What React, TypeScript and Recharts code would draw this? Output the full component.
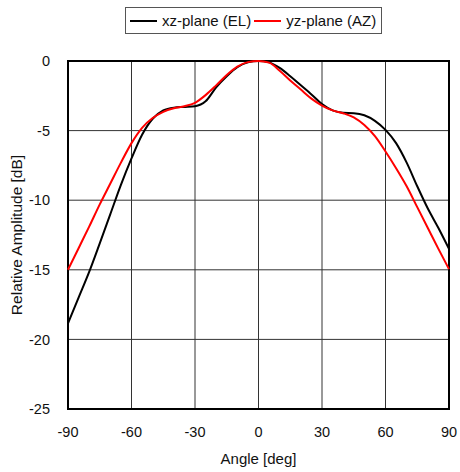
import { CartesianGrid, Line, LineChart, ReferenceArea, XAxis, YAxis } from "recharts";

const angles = [
  -90, -85, -80, -75, -70, -65, -60, -55, -50, -45, -40, -35, -30, -25, -20, -15, -10, -5, 0,
  5, 10, 15, 20, 25, 30, 35, 40, 45, 50, 55, 60, 65, 70, 75, 80, 85, 90,
];

const xzPlane = [
  -18.85, -17.0, -15.15, -13.1, -11.0, -8.9, -7.0, -5.3, -4.15, -3.55, -3.35, -3.3, -3.25, -2.9, -1.9, -1.1, -0.45, -0.1, 0,
  -0.1, -0.5, -1.1, -1.75, -2.4, -3.1, -3.55, -3.72, -3.75, -3.9, -4.3, -4.95, -5.9, -7.3, -9.0, -10.6, -12.0, -13.5,
];

const yzPlane = [
  -15.0, -13.45, -11.9, -10.3, -8.8, -7.3, -5.9, -4.8, -4.1, -3.65, -3.4, -3.25, -3.0, -2.45, -1.75, -1.0, -0.4, -0.08, 0,
  -0.12, -0.7, -1.4, -2.05, -2.7, -3.2, -3.55, -3.75, -4.05, -4.6, -5.4, -6.5, -7.7, -9.0, -10.5, -12.0, -13.5, -14.95,
];

const xTicks = [-90, -60, -30, 0, 30, 60, 90];
const yTicks = [-25, -20, -15, -10, -5, 0];

const seriesNames = ["xz-plane (EL)", "yz-plane (AZ)"];
const seriesColors = ["#000000", "#ff0000"];

const data = angles.map((angle, i) => ({
  angle,
  xz: xzPlane[i],
  yz: yzPlane[i],
}));

const font = "'Liberation Sans', Arial, sans-serif";

const LegendBox = () => (
  <div
    style={{
      position: "absolute",
      left: 125,
      top: 7,
      display: "inline-flex",
      alignItems: "center",
      border: "1px solid #555",
      padding: "3px 5px 3px 4px",
      fontFamily: font,
      fontSize: 15,
      lineHeight: "19px",
      color: "#111",
      background: "#fff",
      whiteSpace: "nowrap",
    }}
  >
    {seriesNames.map((name, i) => (
      <span key={name} style={{ display: "inline-flex", alignItems: "center", marginRight: i === 0 ? 3 : 0 }}>
        <span style={{ display: "inline-block", width: 27, height: 2, background: seriesColors[i], marginRight: 5 }} />
        {name}
      </span>
    ))}
  </div>
);

export default function App() {
  return (
    <div style={{ position: "absolute", left: 0, top: 0, width: 460, height: 472, background: "#fff" }}>
      <LineChart
        width={460}
        height={472}
        data={data}
        margin={{ top: 61, right: 11, bottom: 23, left: 0 }}
        style={{ fontFamily: font }}
      >
        <CartesianGrid stroke="#333" strokeWidth={1} />
        <XAxis
          dataKey="angle"
          type="number"
          domain={[-90, 90]}
          ticks={xTicks}
          axisLine={false}
          tickLine={false}
          height={40}
          tick={{ fill: "#111", fontSize: 14.5 }}
          tickMargin={12}
          label={{ value: "Angle [deg]", position: "insideBottom", offset: -15, fill: "#111", fontSize: 15 }}
        />
        <YAxis
          type="number"
          domain={[-25, 0]}
          ticks={yTicks}
          axisLine={false}
          tickLine={false}
          width={68}
          tick={{ fill: "#111", fontSize: 14.5 }}
          tickMargin={12}
          label={{
            value: "Relative Amplitude [dB]",
            angle: -90,
            position: "insideLeft",
            offset: 16,
            style: { textAnchor: "middle" },
            fill: "#111",
            fontSize: 15.5,
          }}
        />
        <ReferenceArea x1={-90} x2={90} y1={-25} y2={0} fill="none" stroke="#000" strokeWidth={2} ifOverflow="visible" />
        <Line type="monotone" dataKey="xz" name={seriesNames[0]} stroke={seriesColors[0]} strokeWidth={2} dot={false} isAnimationActive={false} />
        <Line type="monotone" dataKey="yz" name={seriesNames[1]} stroke={seriesColors[1]} strokeWidth={2} dot={false} isAnimationActive={false} />
      </LineChart>
      <LegendBox />
    </div>
  );
}
